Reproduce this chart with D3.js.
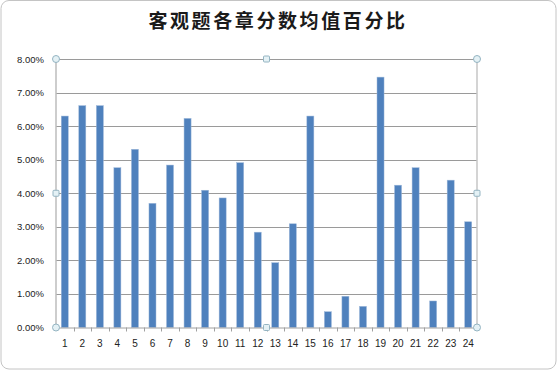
<!DOCTYPE html>
<html>
<head>
<meta charset="utf-8">
<script src="https://cdn.jsdelivr.net/npm/d3@7"></script>
<style>
html,body{margin:0;padding:0;background:#fff;}
svg{display:block;}
</style>
</head>
<body>
<svg id="chart" width="558" height="372"></svg>
<script>
const title = "客观题各章分数均值百分比";
const categories = ["1","2","3","4","5","6","7","8","9","10","11","12","13","14","15","16","17","18","19","20","21","22","23","24"];
const values = [0.0630,0.0661,0.0661,0.0476,0.0531,0.0370,0.0484,0.0623,0.0409,0.0386,0.0491,0.0284,0.0193,0.0309,0.0630,0.0047,0.0093,0.0063,0.0746,0.0424,0.0476,0.0079,0.0439,0.0315];
const yTicks = [0,0.01,0.02,0.03,0.04,0.05,0.06,0.07,0.08];

const svg = d3.select("#chart");
const L = 56, R = 477, T = 59, B = 327.5;

// outer chart border
svg.append("rect").attr("x",1).attr("y",0.5).attr("width",555).attr("height",368.5)
  .attr("rx",8).attr("fill","#fff").attr("stroke","#c4c4c4").attr("stroke-width",1);

const x = d3.scaleBand().domain(categories).range([L,R]).padding(0);
const y = d3.scaleLinear().domain([0,0.08]).range([B,T]);
const fmt = d3.format(".2%");

// gridlines
svg.append("g").selectAll("line").data(yTicks.filter(d=>d>0)).join("line")
  .attr("x1",L).attr("x2",R)
  .attr("y1",d=>Math.round(y(d))+0.5).attr("y2",d=>Math.round(y(d))+0.5)
  .attr("stroke","#9a9a9a").attr("stroke-width",1);

// y axis labels
const yAxis = d3.axisLeft(y).tickValues(yTicks).tickFormat(fmt).tickSize(0).tickPadding(12);
const gy = svg.append("g").attr("transform",`translate(${L},0)`).call(yAxis);
gy.select(".domain").remove();
gy.selectAll("text").attr("font-family","'Liberation Sans', Arial, sans-serif").attr("font-size","9.5px").attr("fill","#222");

// bars
const bw = x.bandwidth();
svg.append("g").selectAll("rect").data(values).join("rect")
  .attr("x",(d,i)=>x(categories[i]) + bw*0.3)
  .attr("width",bw*0.4)
  .attr("y",d=>y(d))
  .attr("height",d=>B - y(d))
  .attr("fill","#4f81bd")
  .attr("stroke","#9db8da").attr("stroke-width",0.5);

// left axis line & right border
svg.append("line").attr("x1",L).attr("x2",L).attr("y1",T).attr("y2",B).attr("stroke","#bdbdbd").attr("stroke-width",1.5);
svg.append("line").attr("x1",R).attr("x2",R).attr("y1",T).attr("y2",B).attr("stroke","#c6c6c6").attr("stroke-width",1.5);

// x axis
const xAxis = d3.axisBottom(x).tickSize(0).tickPadding(12);
const gx = svg.append("g").attr("transform",`translate(0,${B})`).call(xAxis);
gx.select(".domain").attr("stroke","#a0a0a0");
gx.selectAll("text").attr("font-family","'Liberation Sans', Arial, sans-serif").attr("font-size","10px").attr("fill","#222");
// category boundary ticks
svg.append("g").selectAll("line").data(categories.slice(1)).join("line")
  .attr("x1",d=>Math.round(x(d))+0.5).attr("x2",d=>Math.round(x(d))+0.5)
  .attr("y1",B).attr("y2",B+4).attr("stroke","#a0a0a0");

// selection handles
const handleStyle = s => s.attr("fill","#e4f1f5").attr("stroke","#94b4c2").attr("stroke-width",1);
const midX = (L+R)/2, midY = (T+B)/2;
[[L,T],[R,T],[L,B],[R,B]].forEach(([cx,cy])=>{
  svg.append("circle").attr("cx",cx).attr("cy",cy).attr("r",3.5).call(handleStyle);
});
[[midX,T],[midX,B],[L,midY],[R,midY]].forEach(([cx,cy])=>{
  svg.append("rect").attr("x",cx-3).attr("y",cy-3).attr("width",6).attr("height",6).attr("rx",1).call(handleStyle);
});

// title
svg.append("text").attr("x",278).attr("y",27.5).attr("text-anchor","middle")
  .attr("font-family","'Noto Sans CJK SC', sans-serif").attr("font-weight","bold")
  .attr("font-size","19px").attr("letter-spacing","2.6px").attr("fill","#1a1a1a")
  .text(title);
</script>
</body>
</html>
